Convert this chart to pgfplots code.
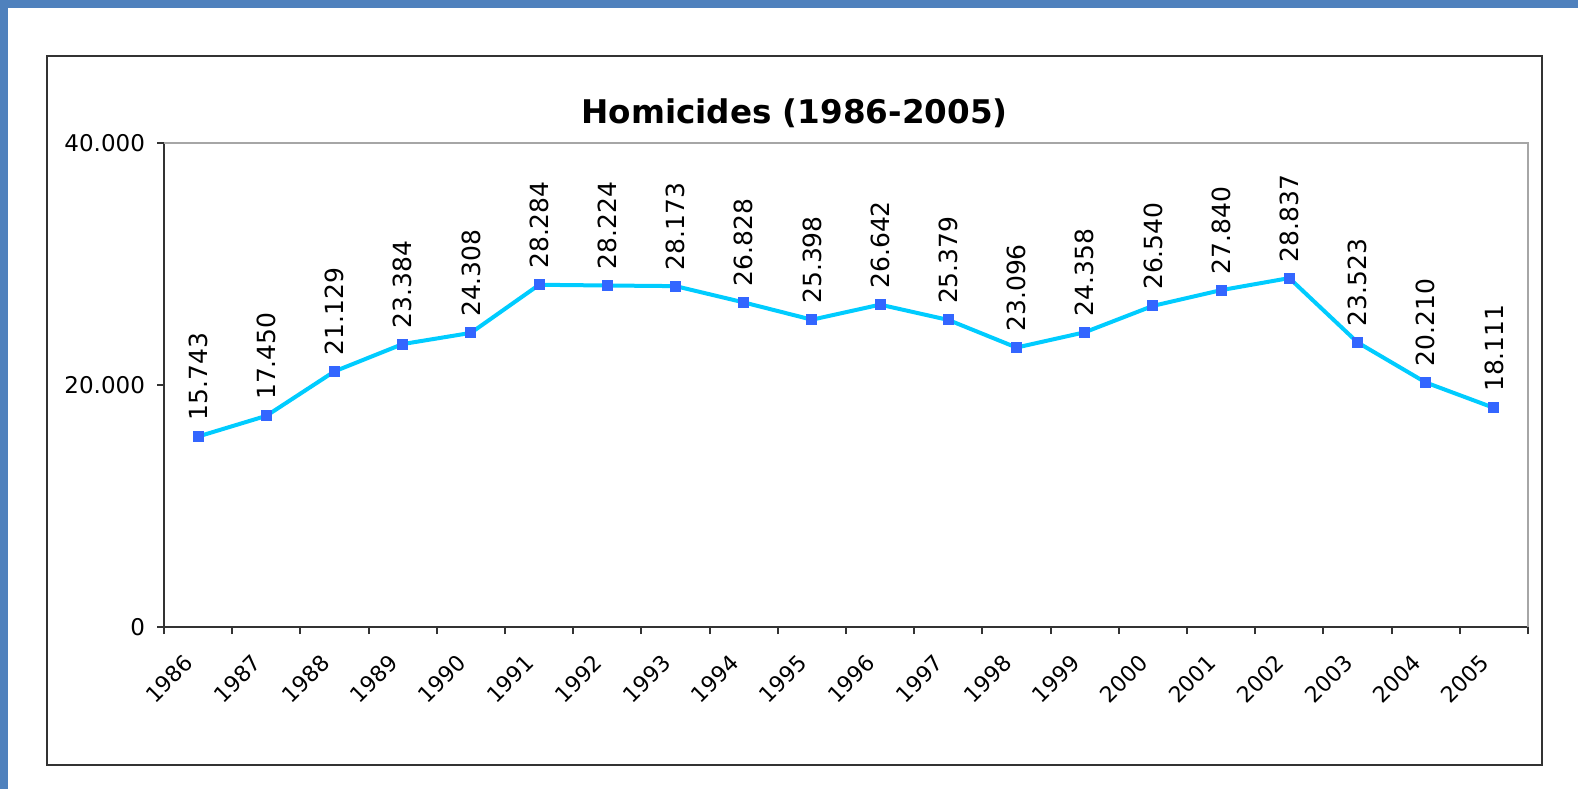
\documentclass[border=0pt]{standalone}
\usepackage{pgfplots}
\pgfplotsset{compat=1.18}
\usepackage{fontspec}
\setmainfont{DejaVu Sans}
\definecolor{frameblue}{HTML}{4F81BD}
\definecolor{linecyan}{HTML}{00CCFF}
\definecolor{markblue}{HTML}{3366FF}
\begin{document}
\begin{tikzpicture}
% background and frame (1px = 0.5pt)
\fill[frameblue] (0pt,0pt) rectangle (789pt,-394.5pt);
\fill[white] (4pt,-4pt) rectangle (789pt,-394.5pt);
\draw[line width=1.2pt, black!80] (23.5pt,-28pt) rectangle (771pt,-382.5pt);
\node[font=\fontsize{16.3}{19}\selectfont\bfseries] at (397.25pt,-56.5pt) {Homicides (1986-2005)};
\begin{axis}[
  at={(82pt,-313.5pt)}, anchor=south west,
  scale only axis, width=682pt, height=242pt,
  xmin=0, xmax=20, ymin=0, ymax=40000,
  scaled y ticks=false,
  axis x line*=bottom, axis y line*=left,
  axis line style={line width=1pt, black!80, -},
  xtick={0.5,1.5,...,19.5},
  xticklabels={1986,1987,1988,1989,1990,1991,1992,1993,1994,1995,1996,1997,1998,1999,2000,2001,2002,2003,2004,2005},
  major x tick style={draw=none},
  minor xtick={0,1,...,20},
  minor tick length=3.5pt,
  minor tick style={line width=1pt, black!80},
  ytick={0,20000,40000},
  yticklabels={0,20.000,40.000},
  major tick length=3.5pt,
  tick style={line width=1pt, black!80},
  tick align=outside,
  /pgf/number format/assume math mode=true,
  yticklabel style={xshift=-2.5pt, font=\fontsize{11.5}{13}\selectfont},
  xticklabel style={xshift=-7.5pt, yshift=-8pt, rotate=45, anchor=north east, inner sep=1pt, font=\fontsize{11}{12}\selectfont},
  clip=false,
]
\draw[line width=1pt, gray!70] (rel axis cs:0,1) -- (rel axis cs:1,1) -- (rel axis cs:1,0);
\addplot[
  color=linecyan, line width=2pt,
  mark=square*, mark size=2.5pt,
  mark options={fill=markblue, draw=markblue, line width=0pt},
  point meta=explicit symbolic,
  nodes near coords,
  nodes near coords style={rotate=90, anchor=west, inner xsep=8pt, inner ysep=0pt, text=black, font=\fontsize{12.5}{14}\selectfont},
] coordinates {
(0.5,15743) [15.743]
(1.5,17450) [17.450]
(2.5,21129) [21.129]
(3.5,23384) [23.384]
(4.5,24308) [24.308]
(5.5,28284) [28.284]
(6.5,28224) [28.224]
(7.5,28173) [28.173]
(8.5,26828) [26.828]
(9.5,25398) [25.398]
(10.5,26642) [26.642]
(11.5,25379) [25.379]
(12.5,23096) [23.096]
(13.5,24358) [24.358]
(14.5,26540) [26.540]
(15.5,27840) [27.840]
(16.5,28837) [28.837]
(17.5,23523) [23.523]
(18.5,20210) [20.210]
(19.5,18111) [18.111]
};
\end{axis}
\end{tikzpicture}
\end{document}
